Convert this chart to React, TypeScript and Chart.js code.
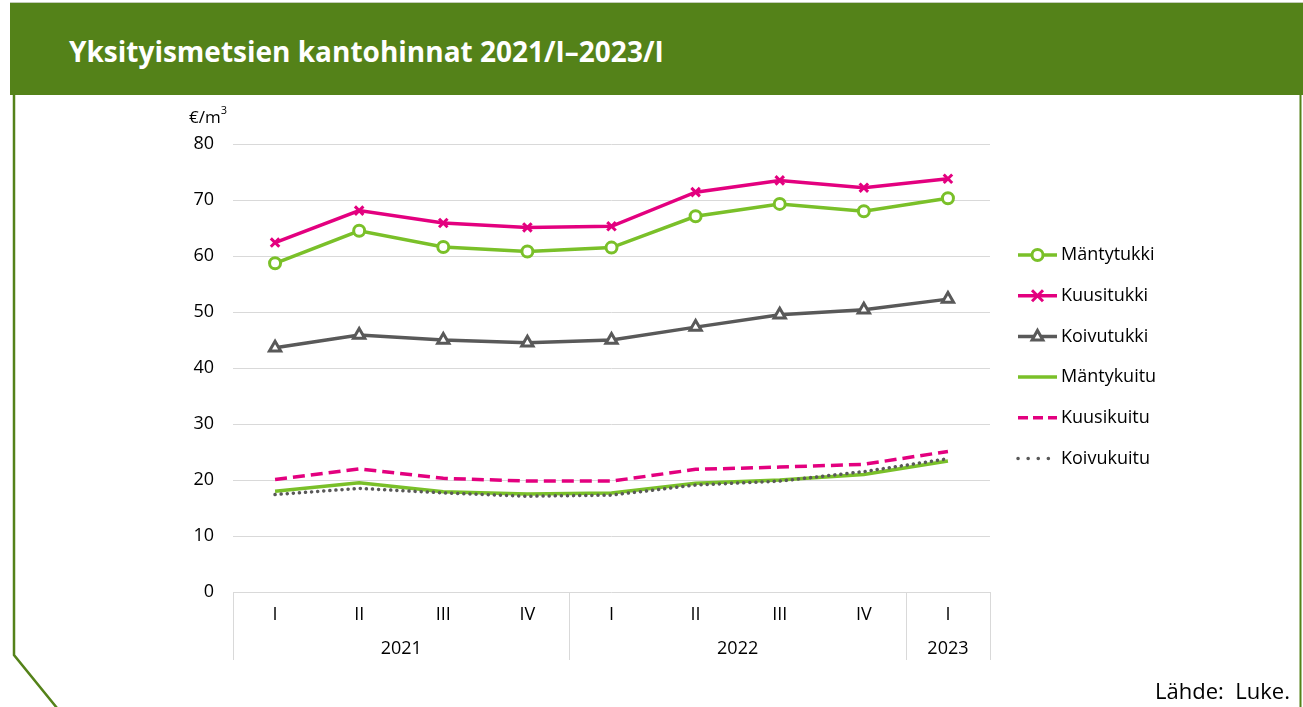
import React, { useEffect, useRef } from "react";
import { Chart, registerables } from "chart.js";

Chart.register(...registerables);

const quarters = ["I", "II", "III", "IV", "I", "II", "III", "IV", "I"];
const years = ["2021", "2022", "2023"];
const yearCounts = [4, 4, 1];
const yTicks = [0, 10, 20, 30, 40, 50, 60, 70, 80];

const mantytukki = [58.7, 64.5, 61.6, 60.8, 61.5, 67.1, 69.3, 68.0, 70.3];
const kuusitukki = [62.4, 68.1, 65.9, 65.1, 65.3, 71.4, 73.5, 72.2, 73.8];
const koivutukki = [43.6, 45.9, 45.0, 44.5, 45.0, 47.3, 49.5, 50.4, 52.3];
const mantykuitu = [18.0, 19.5, 17.9, 17.5, 17.7, 19.4, 20.0, 21.0, 23.4];
const kuusikuitu = [20.1, 22.0, 20.3, 19.8, 19.8, 21.9, 22.3, 22.8, 25.1];
const koivukuitu = [17.4, 18.5, 17.7, 17.1, 17.3, 19.1, 19.8, 21.5, 23.8];

const seriesNames = ["Mäntytukki", "Kuusitukki", "Koivutukki", "Mäntykuitu", "Kuusikuitu", "Koivukuitu"];

const GREEN = "#7ac029";
const PINK = "#e3007f";
const GRAY = "#595959";
const HEADER = "#548219";
const FONT = "'Open Sans', 'Noto Sans', sans-serif";

function drawMarker(ctx: CanvasRenderingContext2D, style: string, x: number, y: number, color: string) {
  ctx.save();
  ctx.lineWidth = 3;
  ctx.strokeStyle = color;
  ctx.fillStyle = "#ffffff";
  ctx.setLineDash([]);
  if (style === "circle") {
    ctx.beginPath();
    ctx.arc(x, y, 5.5, 0, Math.PI * 2);
    ctx.fill();
    ctx.stroke();
  } else if (style === "crossRot") {
    const r = 5.5;
    ctx.beginPath();
    ctx.moveTo(x - r, y - r);
    ctx.lineTo(x + r, y + r);
    ctx.moveTo(x + r, y - r);
    ctx.lineTo(x - r, y + r);
    ctx.stroke();
  } else if (style === "triangle") {
    const r = 6;
    ctx.lineJoin = "miter";
    ctx.beginPath();
    ctx.moveTo(x, y - r);
    ctx.lineTo(x + r * 0.9, y + r * 0.6);
    ctx.lineTo(x - r * 0.9, y + r * 0.6);
    ctx.closePath();
    ctx.fill();
    ctx.stroke();
  }
  ctx.restore();
}

function drawLegend(ctx: CanvasRenderingContext2D, datasets: any[]) {
  const x0 = 1018;
  const x1 = 1057;
  const startY = 255;
  const step = 40.7;
  datasets.forEach((ds: any, i: number) => {
    const y = startY + i * step;
    ctx.save();
    ctx.strokeStyle = ds.borderColor;
    ctx.lineWidth = ds.borderWidth;
    ctx.lineCap = ds.borderCapStyle || "butt";
    ctx.setLineDash(ds.legendDash || ds.borderDash || []);
    ctx.beginPath();
    ctx.moveTo(x0, y);
    ctx.lineTo(x1, y);
    ctx.stroke();
    ctx.restore();
    if (ds.pointRadius > 0) {
      drawMarker(ctx, ds.pointStyle, (x0 + x1) / 2, y, ds.borderColor);
    }
    ctx.save();
    ctx.fillStyle = "#000000";
    ctx.font = `18px ${FONT}`;
    ctx.textBaseline = "middle";
    ctx.textAlign = "left";
    ctx.fillText(ds.label, 1061, y);
    ctx.restore();
  });
}

const legendPlugin = {
  id: "customLegend",
  afterDraw(chart: any) {
    drawLegend(chart.ctx, [...chart.data.datasets].reverse());
  },
};

const xAxisPlugin = {
  id: "groupedAxis",
  afterDraw(chart: any) {
    const ctx = chart.ctx as CanvasRenderingContext2D;
    const xs = chart.scales.x;
    const area = chart.chartArea;
    const half = (xs.getPixelForValue(1) - xs.getPixelForValue(0)) / 2;
    const bottom = area.bottom;
    ctx.save();
    ctx.fillStyle = "#000000";
    ctx.font = `18px ${FONT}`;
    ctx.textAlign = "center";
    ctx.textBaseline = "middle";
    quarters.forEach((q, i) => {
      ctx.fillText(q, xs.getPixelForValue(i), bottom + 23);
    });
    ctx.strokeStyle = "#d9d9d9";
    ctx.lineWidth = 1;
    let start = 0;
    const bounds: number[] = [xs.getPixelForValue(0) - half];
    years.forEach((yr, gi) => {
      const end = start + yearCounts[gi] - 1;
      const left = xs.getPixelForValue(start) - half;
      const right = xs.getPixelForValue(end) + half;
      bounds.push(right);
      ctx.fillText(yr, (left + right) / 2, bottom + 57);
      start = end + 1;
    });
    bounds.forEach((b) => {
      const bx = Math.round(b) + 0.5;
      ctx.beginPath();
      ctx.moveTo(bx, bottom);
      ctx.lineTo(bx, bottom + 68);
      ctx.stroke();
    });
    // unit label
    ctx.textAlign = "left";
    ctx.font = `17px ${FONT}`;
    ctx.fillText("€/m", 189, 118);
    const w = ctx.measureText("€/m").width;
    ctx.font = `11px ${FONT}`;
    ctx.fillText("3", 189 + w, 111);
    ctx.restore();
  },
};

export default function App() {
  const canvasRef = useRef<HTMLCanvasElement | null>(null);

  useEffect(() => {
    document.body.style.margin = "0";
    const canvas = canvasRef.current;
    if (!canvas) return;
    const chart = new Chart(canvas, {
      type: "line",
      data: {
        labels: quarters,
        datasets: [
          {
            label: seriesNames[0],
            data: mantytukki,
            borderColor: GREEN,
            backgroundColor: "#ffffff",
            borderWidth: 3.5,
            pointStyle: "circle",
            pointRadius: 5.5,
            pointBorderWidth: 3,
            pointBackgroundColor: "#ffffff",
            pointBorderColor: GREEN,
          } as any,
          {
            label: seriesNames[1],
            data: kuusitukki,
            borderColor: PINK,
            backgroundColor: "#ffffff",
            borderWidth: 3.5,
            pointStyle: "crossRot",
            pointRadius: 6,
            pointBorderWidth: 3,
            pointBorderColor: PINK,
          } as any,
          {
            label: seriesNames[2],
            data: koivutukki,
            borderColor: GRAY,
            backgroundColor: "#ffffff",
            borderWidth: 3.5,
            pointStyle: "triangle",
            pointRadius: 6.5,
            pointBorderWidth: 3,
            pointBackgroundColor: "#ffffff",
            pointBorderColor: GRAY,
          } as any,
          {
            label: seriesNames[3],
            data: mantykuitu,
            borderColor: GREEN,
            borderWidth: 3.5,
            pointRadius: 0,
          } as any,
          {
            label: seriesNames[4],
            data: kuusikuitu,
            borderColor: PINK,
            borderWidth: 3.5,
            borderDash: [12, 6],
            legendDash: [10, 5],
            pointRadius: 0,
          } as any,
          {
            label: seriesNames[5],
            data: koivukuitu,
            borderColor: GRAY,
            borderWidth: 3.5,
            borderDash: [0.1, 6],
            legendDash: [0.1, 10],
            borderCapStyle: "round",
            pointRadius: 0,
          } as any,
        ].reverse(),
      },
      options: {
        animation: false,
        responsive: false,
        maintainAspectRatio: false,
        events: [],
        layout: { padding: { left: 0, right: 313, top: 144, bottom: 0 } },
        plugins: {
          legend: { display: false },
          tooltip: { enabled: false },
          title: { display: false },
        },
        scales: {
          x: {
            type: "category",
            offset: true,
            grid: { display: false },
            border: { display: false },
            ticks: { display: false },
            afterFit(scale: any) {
              scale.height = 115;
            },
          },
          y: {
            min: 0,
            max: 80,
            afterBuildTicks(scale: any) {
              scale.ticks = yTicks.map((v) => ({ value: v }));
            },
            grid: { color: "#d9d9d9", lineWidth: 1, drawTicks: false },
            border: { display: false },
            ticks: {
              padding: 19,
              color: "#000000",
              font: { family: FONT, size: 18 },
            },
            afterFit(scale: any) {
              scale.width = 233;
            },
          },
        },
      },
      plugins: [xAxisPlugin, legendPlugin],
    });
    return () => chart.destroy();
  }, []);

  return (
    <div style={{ position: "fixed", left: 0, top: 0, width: 1303, height: 707, background: "#ffffff", overflow: "hidden", fontFamily: FONT }}>
      <div style={{ position: "absolute", left: 10, top: 2, width: 1293, height: 1, background: "#c4cdb9" }} />
      <div style={{ position: "absolute", left: 10, top: 3, width: 1293, height: 92, background: HEADER }} />
      <div
        style={{
          position: "absolute",
          left: 69,
          top: 29,
          color: "#ffffff",
          fontWeight: 700,
          fontSize: 28,
          lineHeight: "44px",
          whiteSpace: "nowrap",
          fontFamily: FONT,
        }}
      >
        Yksityismetsien kantohinnat 2021/I–2023/I
      </div>
      <svg width={1303} height={707} style={{ position: "absolute", left: 0, top: 0 }}>
        <polyline points="14,94 14,655 57,708" fill="none" stroke={HEADER} strokeWidth={2.5} />
        <line x1={1300.5} y1={94} x2={1300.5} y2={707} stroke={HEADER} strokeWidth={2} />
      </svg>
      <canvas ref={canvasRef} width={1303} height={707} style={{ position: "absolute", left: 0, top: 0, width: 1303, height: 707 }} />
      <div
        style={{
          position: "absolute",
          right: 13,
          top: 675,
          fontSize: 22,
          lineHeight: "30px",
          color: "#000000",
          whiteSpace: "pre",
          fontFamily: FONT,
        }}
      >
        {"Lähde:  Luke."}
      </div>
    </div>
  );
}
